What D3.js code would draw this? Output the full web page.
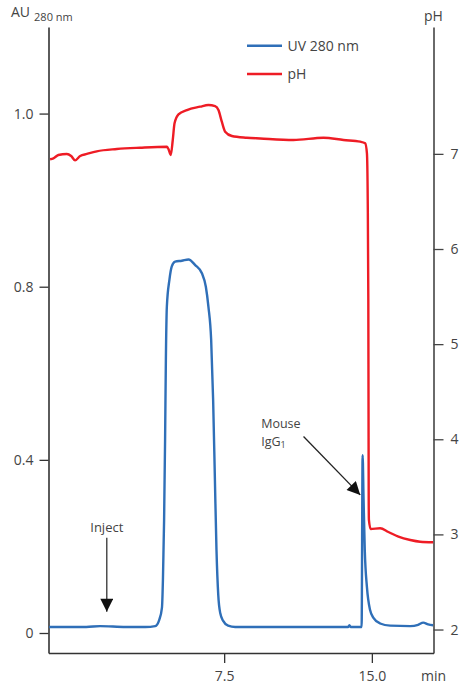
<!DOCTYPE html>
<html>
<head>
<meta charset="utf-8">
<script src="https://cdn.jsdelivr.net/npm/d3@7"></script>
<style>
  html, body { margin: 0; padding: 0; background: #fff; }
  svg { display: block; font-family: "Open Sans", "Noto Sans", sans-serif; }
</style>
</head>
<body>
<svg id="chart" width="461" height="684"></svg>
<script>
// ---- data ----
const uvTime = [-1.39, 0.50, 1.20, 2.50, 3.50, 4.00, 4.20, 4.34, 4.39, 4.43, 4.45, 4.50, 4.54, 4.59, 4.72, 4.84, 5.01, 5.35, 5.69, 6.03, 6.37, 6.57, 6.70, 6.84, 6.94, 7.03, 7.11, 7.20, 7.30, 7.45, 7.70, 8.06, 10.00, 12.00, 13.80, 13.86, 13.92, 14.48, 14.53, 14.58, 14.64, 14.75, 14.91, 15.08, 15.42, 15.93, 16.95, 17.35, 17.61, 17.86, 18.11];
const uvAU   = [0.014, 0.014, 0.016, 0.014, 0.014, 0.016, 0.030, 0.058, 0.122, 0.215, 0.261, 0.446, 0.631, 0.754, 0.816, 0.847, 0.858, 0.860, 0.863, 0.850, 0.831, 0.800, 0.754, 0.677, 0.538, 0.354, 0.192, 0.088, 0.046, 0.028, 0.017, 0.014, 0.014, 0.014, 0.014, 0.018, 0.014, 0.014, 0.411, 0.307, 0.192, 0.106, 0.053, 0.035, 0.022, 0.017, 0.016, 0.019, 0.024, 0.020, 0.018];

const phTime = [-1.34, -1.17, -0.92, -0.49, -0.27, -0.07, 0.19, 0.53, 1.03, 2.05, 3.23, 4.59, 4.67, 4.79, 4.89, 4.98, 5.18, 5.61, 6.28, 6.70, 7.04, 7.21, 7.38, 7.55, 7.89, 8.65, 9.33, 11.02, 12.54, 13.56, 14.41, 14.66, 14.75, 14.79, 14.82, 14.83, 14.84, 14.85, 14.94, 15.42, 15.84, 16.35, 16.95, 17.45, 18.11];
const phValue = [6.943, 6.953, 6.988, 6.999, 6.978, 6.932, 6.978, 6.999, 7.027, 7.051, 7.065, 7.075, 7.051, 6.988, 7.146, 7.321, 7.416, 7.461, 7.496, 7.514, 7.503, 7.461, 7.338, 7.233, 7.188, 7.170, 7.162, 7.146, 7.170, 7.146, 7.128, 7.111, 7.006, 6.515, 5.464, 4.413, 3.362, 3.152, 3.057, 3.064, 3.025, 2.976, 2.941, 2.923, 2.917];

const timeTicks = [7.5, 15.0];
const timeTickLabels = ["7.5", "15.0"];
const auTicks = [0, 0.4, 0.8, 1.2];
const auTickLabels = ["0", "0.4", "0.8", "1.0"];
const phTicks = [2, 3, 4, 5, 6, 7];
const phTickLabels = ["2", "3", "4", "5", "6", "7"];

const seriesNames = ["UV 280 nm", "pH"];
const seriesColors = ["#2f6fb8", "#ee1c25"];

// annotations (data units)
const injectTime = 1.54, injectFrom = 0.22, injectTo = 0.049, injectLabelAU = 0.234;
const peakArrowFrom = [11.53, 0.454], peakArrowTo = [14.41, 0.319];
const peakLabelTime = 9.38, peakLabelAU = 0.4725;

(function () {
// ---- layout ----
const mLeft = 48.5, mRight = 433.5, mTop = 27, mBottom = 653;
const svg = d3.select("#chart");

const x = d3.scaleLinear().domain([-1.42, 18.13]).range([mLeft, mRight]);
const yAU = d3.scaleLinear().domain([-0.0462, 1.40]).range([mBottom, mTop]);
const yPH = d3.scaleLinear().domain([4.5 - (mBottom - 391.7) / 95.13, 4.5 + (391.7 - mTop) / 95.13]).range([mBottom, mTop]);

const textColor = "#444";

// axes
const gL = svg.append("g").attr("transform", `translate(${mLeft},0)`)
  .call(d3.axisLeft(yAU).tickValues(auTicks).tickFormat((d, i) => auTickLabels[i]).tickSize(9).tickSizeOuter(0).tickPadding(6));
const gR = svg.append("g").attr("transform", `translate(${mRight},0)`)
  .call(d3.axisRight(yPH).tickValues(phTicks).tickFormat((d, i) => phTickLabels[i]).tickSize(10).tickSizeOuter(0).tickPadding(7));
const gB = svg.append("g").attr("transform", `translate(0,${mBottom})`)
  .call(d3.axisBottom(x).tickValues(timeTicks).tickFormat((d, i) => timeTickLabels[i]).tickSize(10).tickSizeOuter(0).tickPadding(8));

[gL, gB].forEach(g => {
  g.selectAll(".domain").attr("stroke", "#333").attr("stroke-width", 1.6);
  g.selectAll(".tick line").attr("stroke", "#333").attr("stroke-width", 1.3);
});
gR.selectAll(".domain").attr("stroke", "#6a6a6a").attr("stroke-width", 2);
gR.selectAll(".tick line").attr("stroke", "#444").attr("stroke-width", 1.3);
[gL, gR, gB].forEach(g => g.selectAll("text").attr("fill", textColor).attr("font-size", 14)
  .attr("font-family", '"Open Sans", "Noto Sans", sans-serif'));

// axis titles
const au = svg.append("text").attr("x", 11).attr("y", 17).attr("fill", textColor).attr("font-size", 14);
au.append("tspan").text("AU");
au.append("tspan").attr("dx", 4).attr("dy", 3.5).attr("font-size", 11).text("280 nm");
svg.append("text").attr("x", 424).attr("y", 21).attr("fill", textColor).attr("font-size", 14).text("pH");
svg.append("text").attr("x", 421).attr("y", 680.5).attr("fill", textColor).attr("font-size", 14).text("min");

// lines
const uvData = uvTime.map((t, i) => [t, uvAU[i]]);
const phData = phTime.map((t, i) => [t, phValue[i]]);
const lineUV = d3.line().x(d => x(d[0])).y(d => yAU(d[1])).curve(d3.curveMonotoneX);
const linePH = d3.line().x(d => x(d[0])).y(d => yPH(d[1])).curve(d3.curveMonotoneX);

svg.append("path").datum(uvData).attr("d", lineUV).attr("fill", "none")
  .attr("stroke", seriesColors[0]).attr("stroke-width", 2.4).attr("stroke-linejoin", "round");
svg.append("path").datum(phData).attr("d", linePH).attr("fill", "none")
  .attr("stroke", seriesColors[1]).attr("stroke-width", 2.4).attr("stroke-linejoin", "round");

// legend
const legY = [45.7, 74];
seriesNames.forEach((name, i) => {
  svg.append("line").attr("x1", 247).attr("x2", 282).attr("y1", legY[i]).attr("y2", legY[i])
    .attr("stroke", seriesColors[i]).attr("stroke-width", 2.6);
  svg.append("text").attr("x", 287.5).attr("y", legY[i] + 5).attr("fill", textColor)
    .attr("font-size", 14).text(name);
});

// arrowhead marker
const defs = svg.append("defs");
defs.append("marker").attr("id", "arrow").attr("viewBox", "0 0 10 10")
  .attr("refX", 10).attr("refY", 5).attr("markerUnits", "userSpaceOnUse")
  .attr("markerWidth", 18).attr("markerHeight", 13).attr("orient", "auto")
  .append("path").attr("d", "M0,0 L10,5 L0,10 z").attr("fill", "#111");

// inject annotation
svg.append("text").attr("x", x(injectTime)).attr("y", yAU(injectLabelAU)).attr("text-anchor", "middle")
  .attr("fill", textColor).attr("font-size", 13).text("Inject");
svg.append("line").attr("x1", x(injectTime)).attr("x2", x(injectTime))
  .attr("y1", yAU(injectFrom)).attr("y2", yAU(injectTo))
  .attr("stroke", "#333").attr("stroke-width", 1.3).attr("marker-end", "url(#arrow)");

// peak annotation (one text block, two lines)
const lx = x(peakLabelTime);
const pk = svg.append("text").attr("x", lx).attr("y", yAU(peakLabelAU))
  .attr("fill", textColor).attr("font-size", 12.5);
pk.append("tspan").attr("x", lx).text("Mouse");
pk.append("tspan").attr("x", lx).attr("dy", 17.5).text("IgG");
pk.append("tspan").attr("font-size", 9).attr("dy", 2).text("1");
svg.append("line").attr("x1", x(peakArrowFrom[0])).attr("y1", yAU(peakArrowFrom[1]))
  .attr("x2", x(peakArrowTo[0])).attr("y2", yAU(peakArrowTo[1]))
  .attr("stroke", "#222").attr("stroke-width", 1.3).attr("marker-end", "url(#arrow)");
})();
</script>
</body>
</html>
